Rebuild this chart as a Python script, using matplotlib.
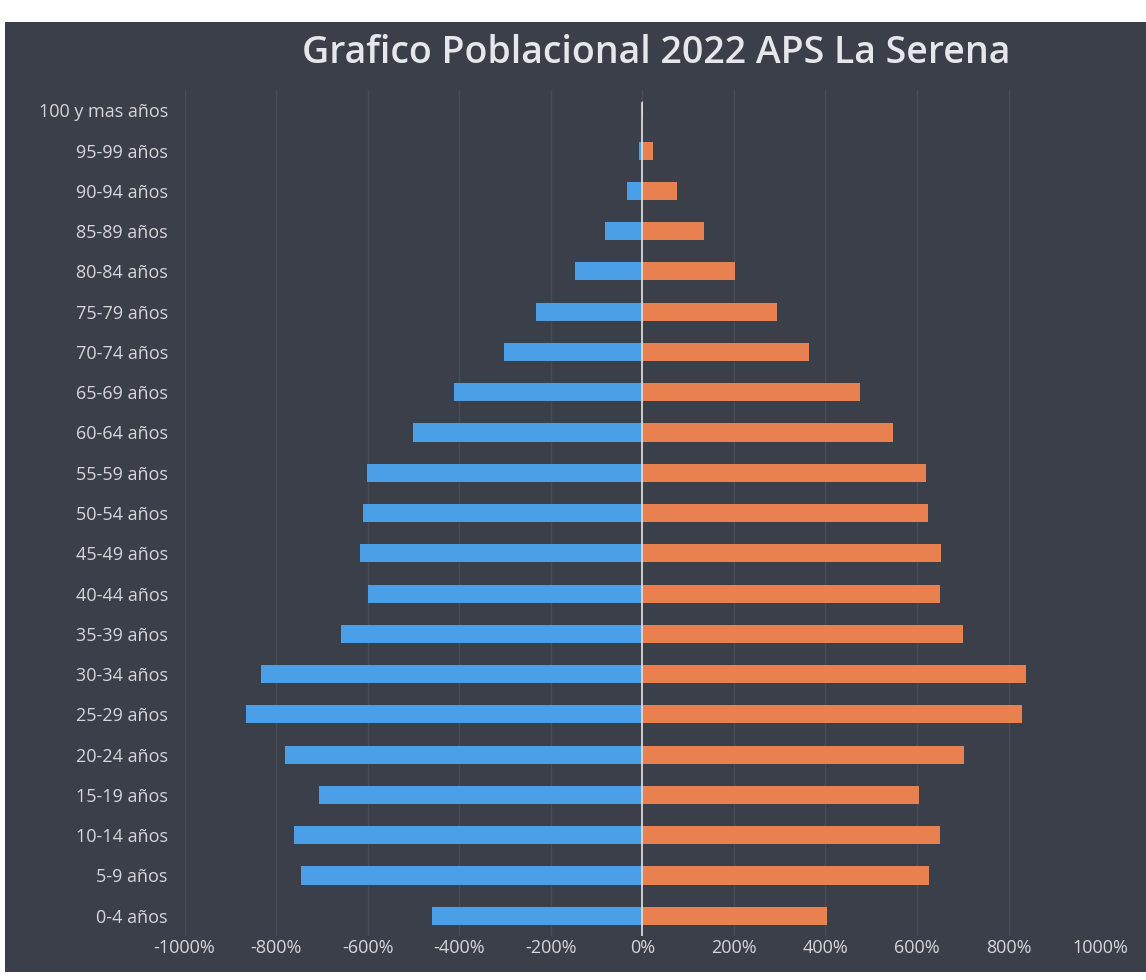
import matplotlib.pyplot as plt
from matplotlib.ticker import FuncFormatter

# Age groups, bottom to top
grupos = ["0-4 años", "5-9 años", "10-14 años", "15-19 años", "20-24 años",
          "25-29 años", "30-34 años", "35-39 años", "40-44 años", "45-49 años",
          "50-54 años", "55-59 años", "60-64 años", "65-69 años", "70-74 años",
          "75-79 años", "80-84 años", "85-89 años", "90-94 años", "95-99 años",
          "100 y mas años"]

# values (percent)
hombres = [-460, -746, -760, -707, -780, -866, -832, -659, -600, -616,
           -610, -601, -502, -412, -303, -233, -147, -81, -33, -7, -1]
mujeres = [404, 626, 650, 604, 703, 829, 837, 701, 650, 653,
           624, 620, 547, 475, 365, 295, 202, 134, 75, 24, 2]

ticks = list(range(-1000, 1001, 200))

BG = "#3b3f4a"
AZUL = "#4b9fe6"
NARANJA = "#e8804f"
TEXTO = "#d4d6da"

fig = plt.figure(figsize=(11.46, 9.8), dpi=100)
fig.patch.set_facecolor("white")

# dark chart area (scanned page has white margins)
fondo = fig.add_axes([0.004, 0.008, 0.996, 0.97])
fondo.set_facecolor(BG)
fondo.set_xticks([])
fondo.set_yticks([])
for s in fondo.spines.values():
    s.set_visible(False)

ax = fig.add_axes([0.161, 0.045, 0.799, 0.863])
ax.set_facecolor(BG)
y = list(range(len(grupos)))
ax.barh(y, hombres, height=0.45, color=AZUL)
ax.barh(y, mujeres, height=0.45, color=NARANJA)

ax.set_xlim(-1000, 1000)
ax.set_ylim(-0.5, len(grupos) - 0.5)
ax.set_xticks(ticks)
ax.xaxis.set_major_formatter(FuncFormatter(lambda v, p: f"{int(v)}%"))
ax.set_yticks(y)
ax.set_yticklabels(grupos)
ax.tick_params(axis="both", length=0, colors=TEXTO, labelsize=13)
ax.tick_params(axis="x", pad=2)
ax.tick_params(axis="y", pad=12)
for lab in ax.get_xticklabels() + ax.get_yticklabels():
    lab.set_family("Open Sans")

ax.grid(axis="x", color="#474b56", linewidth=1)
ax.set_axisbelow(True)
ax.axvline(0, color="#e2e2e2", linewidth=1.2, ymax=0.985)
for s in ax.spines.values():
    s.set_visible(False)

fig.text(0.573, 0.946, "Grafico Poblacional 2022 APS La Serena",
         ha="center", va="center", fontsize=27, color="#e6e7ea",
         family="Open Sans", fontweight="semibold")

fig.savefig("out.png", dpi=100, facecolor=fig.get_facecolor())
